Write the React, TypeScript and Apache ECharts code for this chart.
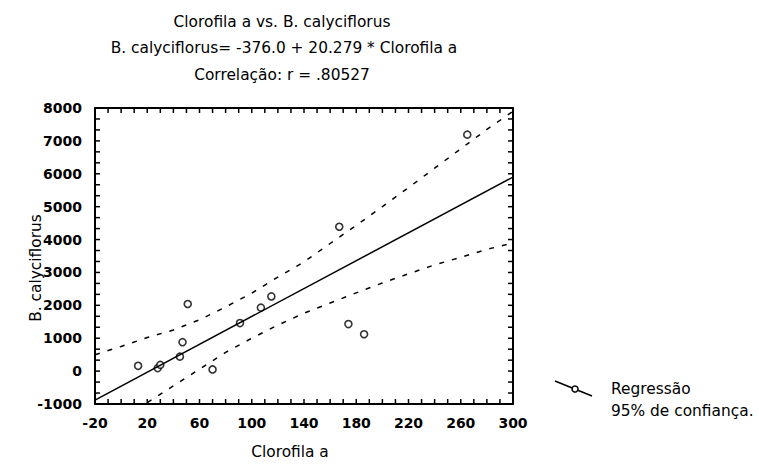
import React, { useEffect, useRef } from "react";
import * as echarts from "echarts";

const titleLines = [
  "Clorofila a vs. B. calyciflorus",
  "B. calyciflorus= -376.0 + 20.279 * Clorofila a",
  "Correlação: r = .80527",
];
const xAxisName = "Clorofila a";
const yAxisName = "B. calyciflorus";
const legendLabels = ["Regressão", "95% de confiança."];

// observations (Clorofila a, B. calyciflorus)
const obsX = [13, 28, 30, 45, 47, 51, 70, 91, 107, 115, 167, 174, 186, 265];
const obsY = [160, 90, 190, 440, 880, 2040, 50, 1460, 1930, 2270, 4390, 1430, 1120, 7190];

// regression line (as drawn)
const regX = [-20, 300];
const regY = [-880, 5900];

// 95% confidence band
const upperX = [-20, 0, 20, 40, 60, 80, 100, 120, 140, 160, 180, 200, 220, 240, 260, 280, 300];
const upperY = [500, 750, 1020, 1250, 1560, 1950, 2370, 2860, 3320, 3880, 4430, 5000, 5580, 6170, 6760, 7350, 7900];
const lowerX = [20, 40, 60, 80, 100, 120, 140, 160, 180, 200, 220, 240, 260, 280, 300];
const lowerY = [-960, -450, 60, 570, 1000, 1400, 1760, 2070, 2380, 2680, 2960, 3230, 3460, 3700, 3900];

// axis range and frame tick marks
const X_MIN = -20, X_MAX = 300, X_STEP = 40, X_TICK_STEP = 10;
const Y_MIN = -1000, Y_MAX = 8000, Y_STEP = 1000, Y_TICKS_PER_STEP = 3;

const FONT = "'DejaVu Sans', Verdana, sans-serif";

const zip = (a: number[], b: number[]) => a.map((v, i) => [v, b[i]]);

export default function App() {
  const ref = useRef<HTMLDivElement>(null);
  useEffect(() => {
    if (!ref.current) return;
    const chart = echarts.init(ref.current, null, { renderer: "svg" });

    const xTickVals: number[] = [];
    for (let v = X_MIN; v <= X_MAX; v += X_TICK_STEP) xTickVals.push(v);
    const yTickVals: number[] = [];
    const nY = ((Y_MAX - Y_MIN) / Y_STEP) * Y_TICKS_PER_STEP;
    for (let k = 0; k <= nY; k++) yTickVals.push(Y_MIN + (k * Y_STEP) / Y_TICKS_PER_STEP);

    const TL = 5;

    const lineCfg = () => ({ show: true, onZero: false, lineStyle: { color: "#000", width: 2 } });
    const labelStyle = { color: "#000", fontFamily: FONT, fontSize: 14, fontWeight: "bold" as const };
    const txt = (text: string, x: number, y: number, align = "center", rot = 0) => ({
      type: "text", x, y, rotation: rot,
      style: { text, fill: "#000", font: `15.4px ${FONT}`, textAlign: align, textVerticalAlign: "middle" },
    });

    const tickSeries = (data: number[][], dir: "x" | "y") => ({
      type: "custom",
      silent: true,
      clip: false,
      z: 10,
      data,
      renderItem: (_p: any, api: any) => {
        const a = api.value(0);
        const b = api.value(1);
        let p1, p2;
        if (dir === "x") {
          p1 = api.coord([a, Y_MIN]);
          p2 = api.coord([a, Y_MAX]);
          return {
            type: "group",
            children: [
              { type: "line", shape: { x1: p1[0], y1: p1[1], x2: p1[0], y2: p1[1] - TL }, style: { stroke: "#000", lineWidth: 1.5 } },
              { type: "line", shape: { x1: p2[0], y1: p2[1], x2: p2[0], y2: p2[1] + TL }, style: { stroke: "#000", lineWidth: 1.5 } },
            ],
          };
        }
        p1 = api.coord([X_MIN, b]);
        p2 = api.coord([X_MAX, b]);
        return {
          type: "group",
          children: [
            { type: "line", shape: { x1: p1[0], y1: p1[1], x2: p1[0] + TL, y2: p1[1] }, style: { stroke: "#000", lineWidth: 1.5 } },
            { type: "line", shape: { x1: p2[0], y1: p2[1], x2: p2[0] - TL, y2: p2[1] }, style: { stroke: "#000", lineWidth: 1.5 } },
          ],
        };
      },
    });

    chart.setOption({
      animation: false,
      backgroundColor: "#fff",
      grid: { left: 95, right: 246, top: 108, bottom: 60 },
      xAxis: [
        {
          type: "value", min: X_MIN, max: X_MAX, interval: X_STEP, position: "bottom",
          axisLine: lineCfg(), axisTick: { show: false },
          axisLabel: { ...labelStyle, margin: 12, formatter: (v: number) => String(v) }, splitLine: { show: false },
        },
        {
          type: "value", min: X_MIN, max: X_MAX, interval: X_STEP, position: "top",
          axisLine: lineCfg(), axisTick: { show: false },
          axisLabel: { show: false }, splitLine: { show: false },
        },
      ],
      yAxis: [
        {
          type: "value", min: Y_MIN, max: Y_MAX, interval: Y_STEP, position: "left",
          axisLine: lineCfg(), axisTick: { show: false },
          axisLabel: { ...labelStyle, margin: 13, formatter: (v: number) => String(v) }, splitLine: { show: false },
        },
        {
          type: "value", min: Y_MIN, max: Y_MAX, interval: Y_STEP, position: "right",
          axisLine: lineCfg(), axisTick: { show: false },
          axisLabel: { show: false }, splitLine: { show: false },
        },
      ],
      series: [
        tickSeries(xTickVals.map((v) => [v, 0]), "x"),
        tickSeries(yTickVals.map((v) => [0, v]), "y"),
        {
          type: "line", data: zip(upperX, upperY), showSymbol: false, symbol: "none",
          lineStyle: { color: "#000", width: 1.5, type: [5, 8] },
        },
        {
          type: "line", data: zip(lowerX, lowerY), showSymbol: false, symbol: "none",
          lineStyle: { color: "#000", width: 1.5, type: [5, 8] },
        },
        {
          type: "line", data: zip(regX, regY), showSymbol: false, symbol: "none",
          lineStyle: { color: "#000", width: 1.5 },
        },
        {
          type: "scatter", data: zip(obsX, obsY), symbol: "circle", symbolSize: 7,
          itemStyle: { color: "#fff", borderColor: "#000", borderWidth: 1.6 },
        },
      ],
      graphic: [
        txt(titleLines[0], 282, 21.5),
        txt(titleLines[1], 284, 47.5),
        txt(titleLines[2], 282, 74.5),
        txt(xAxisName, 290, 452),
        txt(yAxisName, 36, 268, "center", Math.PI / 2),
        { type: "line", shape: { x1: 555, y1: 381, x2: 592, y2: 396 }, style: { stroke: "#000", lineWidth: 1.5 } },
        { type: "circle", shape: { cx: 575, cy: 389, r: 3 }, style: { fill: "#fff", stroke: "#000", lineWidth: 1.5 } },
        txt(legendLabels[0], 611, 389, "left"),
        txt(legendLabels[1], 611, 411, "left"),
      ],
    });
    return () => chart.dispose();
  }, []);
  return <div ref={ref} style={{ width: 759, height: 464, position: "absolute", left: 0, top: 0 }} />;
}
